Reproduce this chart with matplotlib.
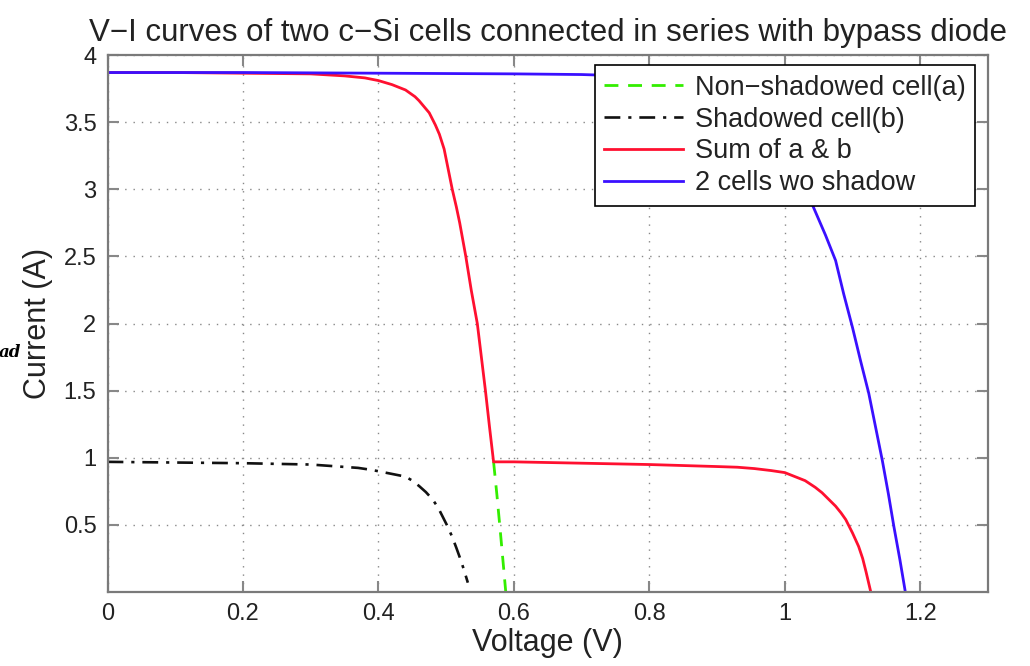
import numpy as np
import matplotlib
matplotlib.use("Agg")
import matplotlib.pyplot as plt

plt.rcParams["font.family"] = ["Liberation Sans", "DejaVu Sans"]

# Werte (Spannung in V, Strom in A)
v_sum = [0, 0.1, 0.2, 0.3, 0.35, 0.38, 0.4, 0.42, 0.44, 0.454, 0.46, 0.475,
         0.484, 0.49, 0.497, 0.503, 0.509, 0.515, 0.52, 0.529, 0.537, 0.546,
         0.552, 0.558, 0.564, 0.570, 0.6, 0.7, 0.8, 0.9, 0.93, 0.955, 0.98,
         1.0, 1.015, 1.03, 1.045, 1.055, 1.065, 1.075, 1.083, 1.09, 1.1,
         1.109, 1.115, 1.12, 1.127]
i_sum = [3.87, 3.87, 3.865, 3.86, 3.845, 3.83, 3.81, 3.78, 3.74, 3.69, 3.66, 3.57,
         3.48, 3.41, 3.3, 3.15, 3.0, 2.87, 2.75, 2.5, 2.25, 2.0,
         1.75, 1.5, 1.23, 0.97, 0.97, 0.96, 0.95, 0.935, 0.93, 0.92, 0.905,
         0.89, 0.86, 0.83, 0.78, 0.74, 0.69, 0.64, 0.59, 0.54, 0.44,
         0.34, 0.25, 0.15, 0.0]

v_two = [0, 0.2, 0.4, 0.6, 0.7, 0.8, 0.87, 0.92, 0.96, 1.0, 1.02, 1.042, 1.06,
         1.075, 1.087, 1.10, 1.112, 1.124, 1.134, 1.144, 1.153, 1.161, 1.17, 1.178]
i_two = [3.87, 3.87, 3.865, 3.86, 3.855, 3.84, 3.8, 3.7, 3.55, 3.3, 3.1, 2.87, 2.66,
         2.47, 2.22, 1.97, 1.72, 1.48, 1.23, 0.98, 0.73, 0.49, 0.24, 0.0]

v_shad = [0, 0.1, 0.2, 0.3, 0.37, 0.39, 0.41, 0.425, 0.44, 0.45, 0.46, 0.47, 0.48,
          0.488, 0.495, 0.502, 0.509, 0.515, 0.52, 0.526, 0.532]
i_shad = [0.97, 0.965, 0.96, 0.95, 0.925, 0.91, 0.89, 0.875, 0.86, 0.83, 0.79, 0.745, 0.69,
          0.63, 0.56, 0.49, 0.41, 0.33, 0.26, 0.17, 0.07]

v_nonshad = [0.570, 0.575, 0.58, 0.585, 0.588]
i_nonshad = [0.97, 0.72, 0.45, 0.17, 0.0]

xticks = [0, 0.2, 0.4, 0.6, 0.8, 1.0, 1.2]
xticklabels = ["0", "0.2", "0.4", "0.6", "0.8", "1", "1.2"]
yticks = [0.5, 1, 1.5, 2, 2.5, 3, 3.5, 4]
yticklabels = ["0.5", "1", "1.5", "2", "2.5", "3", "3.5", "4"]

fig = plt.figure(figsize=(10.3, 6.66), dpi=100)
ax = fig.add_axes([0.1044, 0.111, 0.8548, 0.8063])

ax.plot(v_nonshad, i_nonshad, color="#33ee00", linestyle=(0, (5, 3.5)), lw=2.0,
        label="Non\u2212shadowed cell(a)")
ax.plot(v_shad, i_shad, color="#111111", linestyle=(0, (6, 3, 1.2, 3)), lw=1.9,
        label="Shadowed cell(b)")
ax.plot(v_sum, i_sum, color="#ff1030", lw=2.0, label="Sum of a & b")
ax.plot(v_two, i_two, color="#3a10ff", lw=2.0, label="2 cells wo shadow")

ax.set_xlim(0, 1.3)
ax.set_ylim(0, 4)
ax.set_xticks(xticks)
ax.set_xticklabels(xticklabels)
ax.set_yticks(yticks)
ax.set_yticklabels(yticklabels)

ax.grid(True, linestyle=(0, (1, 5)), color="#888888", lw=1.0)
ax.tick_params(direction="in", length=8, width=1.5, color="#888888",
               labelsize=17, labelcolor="#222222", top=True, right=True, pad=8)
for sp in ax.spines.values():
    sp.set_color("#7a7a7a")
    sp.set_linewidth(1.6)

ax.set_xlabel("Voltage (V)", fontsize=22, labelpad=2, color="#222222")
ax.set_ylabel("Current (A)", fontsize=22, labelpad=8, color="#222222")
ax.set_title("V\u2212I curves of two c\u2212Si cells connected in series with bypass diode",
             fontsize=22.5, pad=10, color="#222222")

# abgeschnittener Rest am linken Rand
fig.text(0.021, 0.471, "ad", fontsize=12, fontweight="bold", fontstyle="italic",
         family="DejaVu Serif", ha="right", va="center")

leg = ax.legend(loc="upper right", bbox_to_anchor=(0.9853, 0.9814), borderaxespad=0,
                fontsize=19.5, handlelength=2.9, handletextpad=0.45, labelspacing=0.22,
                borderpad=0.35, fancybox=False, framealpha=1)
leg.get_frame().set_edgecolor("black")
leg.get_frame().set_linewidth(1.2)
for t in leg.get_texts():
    t.set_color("#222222")

fig.savefig("out.png", dpi=100)
